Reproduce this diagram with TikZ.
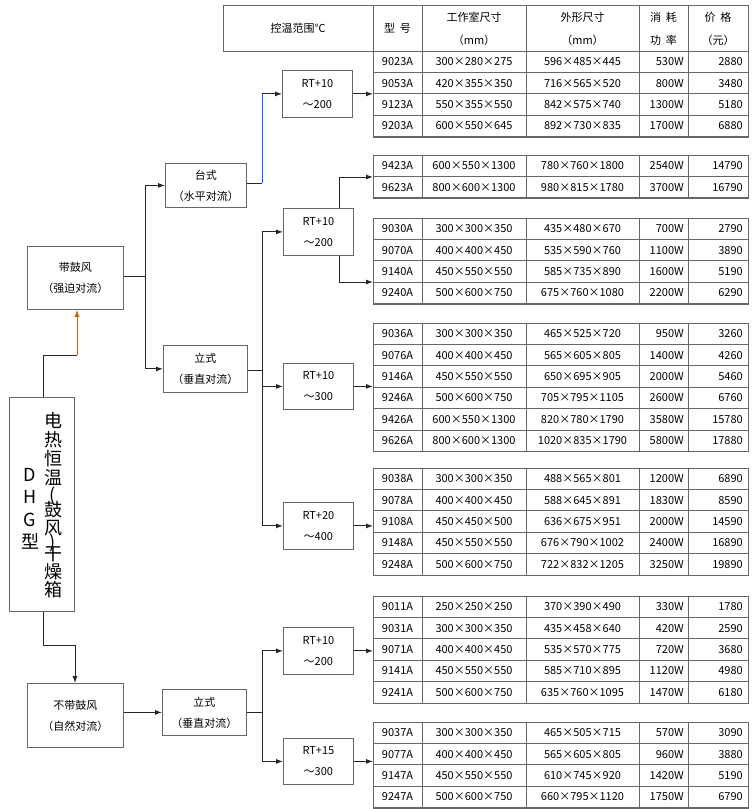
\documentclass[tikz,border=0pt]{standalone}
\usepackage{fontspec}
\setmainfont{Noto Sans CJK SC}
\usetikzlibrary{positioning,calc,arrows.meta}

\tikzset{
  box/.style={rectangle, draw=black!60, line width=0.8pt, anchor=north west, inner sep=0pt, align=center, font=\fontsize{11}{21}\selectfont},
  cell/.style={font=\fontsize{11}{13}\selectfont, inner sep=0pt},
  conn/.style={draw=black!85, line width=0.9pt},
  arr/.style={conn, -{Latex[length=7pt,width=5pt]}},
  grid/.style={draw=black!60, line width=0.7pt}
}

% #1 name, #2 top y, #3 rows, #4 row list
\newcommand\datatable[4]{
  \node[grid, rectangle, anchor=north west, inner sep=0pt, minimum width=375pt, minimum height=#3*21.4pt] (#1) at (373,#2) {};
  \foreach \m/\w/\o/\p/\c [count=\i] in {#4} {
    \pgfmathsetmacro\ya{#2+(\i-1)*21.4}
    \pgfmathsetmacro\yc{\ya+10.7}
    \draw[grid] (373,\ya) rectangle (748,\ya+21.4);
    \foreach \xl in {422,526,639,688} \draw[grid] (\xl,\ya) -- (\xl,\ya+21.4);
    \node[cell] (#1m\i) at (397.5,\yc) {\m};
    \node[cell] (#1w\i) at (474,\yc) {\w};
    \node[cell] (#1o\i) at (582.5,\yc) {\o};
    \node[cell, anchor=east] (#1p\i) at (684,\yc) {\p};
    \node[cell, anchor=east] (#1c\i) at (743,\yc) {\c};
  }
}

\begin{document}
\begin{tikzpicture}[x=1pt,y=-1pt]
  \useasboundingbox (0,0) rectangle (752,809);

  % header
  \draw[grid] (223,5) rectangle (748,51);
  \foreach \xl in {373,422,526,639,688} \draw[grid] (\xl,5) -- (\xl,51);
  \node[cell] (hrange) at (298,28) {控温范围℃};
  \node[cell] (hmodel) at (397.5,28) {型\ \ 号};
  \node[cell] (hwork) at (474,17) {工作室尺寸};
  \node[cell] (hworku) at (474,40) {（mm）};
  \node[cell] (hout) at (582.5,17) {外形尺寸};
  \node[cell] (houtu) at (582.5,40) {（mm）};
  \node[cell] (hpow) at (663.5,17) {消\ \ 耗};
  \node[cell] (hpowb) at (663.5,40) {功\ \ 率};
  \node[cell] (hprice) at (718,17) {价\ \ 格};
  \node[cell] (hpriceb) at (718,40) {（元）};

  % tables
  \datatable{ta}{51}{4}{9023A/300×280×275/596×485×445/530W/2880, 9053A/420×355×350/716×565×520/800W/3480, 9123A/550×355×550/842×575×740/1300W/5180, 9203A/600×550×645/892×730×835/1700W/6880}
  \datatable{tb}{155}{2}{9423A/600×550×1300/780×760×1800/2540W/14790, 9623A/800×600×1300/980×815×1780/3700W/16790}
  \datatable{tc}{218}{4}{9030A/300×300×350/435×480×670/700W/2790, 9070A/400×400×450/535×590×760/1100W/3890, 9140A/450×550×550/585×735×890/1600W/5190, 9240A/500×600×750/675×760×1080/2200W/6290}
  \datatable{td}{323}{6}{9036A/300×300×350/465×525×720/950W/3260, 9076A/400×400×450/565×605×805/1400W/4260, 9146A/450×550×550/650×695×905/2000W/5460, 9246A/500×600×750/705×795×1105/2600W/6760, 9426A/600×550×1300/820×780×1790/3580W/15780, 9626A/800×600×1300/1020×835×1790/5800W/17880}
  \datatable{te}{468}{5}{9038A/300×300×350/488×565×801/1200W/6890, 9078A/400×400×450/588×645×891/1830W/8590, 9108A/450×450×500/636×675×951/2000W/14590, 9148A/450×550×550/676×790×1002/2400W/16890, 9248A/500×600×750/722×832×1205/3250W/19890}
  \datatable{tf}{596}{5}{9011A/250×250×250/370×390×490/330W/1780, 9031A/300×300×350/435×458×640/420W/2590, 9071A/400×400×450/535×570×775/720W/3680, 9141A/450×550×550/585×710×895/1120W/4980, 9241A/500×600×750/635×760×1095/1470W/6180}
  \datatable{tg}{722}{4}{9037A/300×300×350/465×505×715/570W/3090, 9077A/400×400×450/565×605×805/960W/3880, 9147A/450×550×550/610×745×920/1420W/5190, 9247A/500×600×750/660×795×1120/1750W/6790}

  % tree boxes
  \node[box, minimum width=65pt, minimum height=214pt] (main) at (9,397) {};
  \foreach \ch/\yy [count=\k] in {电/421, 热/440, 恒/459, 温/478, {(}/496, 鼓/510, 风/528, {)}/543, 干/554, 燥/572, 箱/590}
    \node[inner sep=0pt, font=\fontsize{18}{18}\selectfont] (mc\k) at (53,\yy) {\ch};
  \foreach \ch/\yy [count=\k] in {D/475, H/497, G/520, 型/541}
    \node[inner sep=0pt, font=\fontsize{18}{18}\selectfont] (md\k) at (30,\yy) {\ch};

  \node[box, minimum width=96pt, minimum height=63pt] (fan) at (27,246) {带鼓风\\（强迫对流）};
  \node[box, minimum width=96pt, minimum height=64pt] (nofan) at (27,683) {不带鼓风\\（自然对流）};
  \node[box, minimum width=81pt, minimum height=44pt] (desk) at (165,163) {台式\\（水平对流）};
  \node[box, minimum width=84pt, minimum height=47pt] (vert) at (163,345) {立式\\（垂直对流）};
  \node[box, minimum width=84pt, minimum height=46pt] (vertb) at (162,689) {立式\\（垂直对流）};
  \node[box, minimum width=70pt, minimum height=47pt] (ra) at (282,70) {RT+10\\～200};
  \node[box, minimum width=70pt, minimum height=47pt] (rb) at (283,208) {RT+10\\～200};
  \node[box, minimum width=70pt, minimum height=46pt] (rc) at (283,363) {RT+10\\～300};
  \node[box, minimum width=70pt, minimum height=47pt] (rd) at (283,502) {RT+20\\～400};
  \node[box, minimum width=70pt, minimum height=47pt] (re) at (283,627) {RT+10\\～200};
  \node[box, minimum width=70pt, minimum height=46pt] (rf) at (283,738) {RT+15\\～300};

  % connectors
  \coordinate (up1) at (43,355);
  \coordinate (up2) at (77,355);
  \draw[conn] (main.north -| up1) -- (up1) -- (up2);
  \draw[arr, draw=orange!80!black] (up2) -- (up2 |- fan.south);
  \coordinate (dn1) at (43,645);
  \coordinate (dn2) at (75,645);
  \draw[conn] (main.south -| dn1) -- (dn1) -- (dn2);
  \draw[arr] (dn2) -- (dn2 |- nofan.north);

  \coordinate (bus1) at (145,276);
  \draw[conn] (fan.east |- bus1) -- (bus1);
  \draw[arr] (bus1) |- (desk.west);
  \draw[arr] (bus1) |- (vert.west);

  \coordinate (bus2) at (262,183);
  \draw[conn] (desk.east |- bus2) -- (bus2);
  \draw[conn, draw=blue!60!cyan] (bus2) -- (bus2 |- ra.west);
  \draw[arr] (bus2 |- ra.west) -- (ra.west);
  \draw[arr] (ra.east) -- (ra.east -| ta.west);

  \coordinate (bus3) at (262,370);
  \draw[conn] (vert.east |- bus3) -- (bus3);
  \draw[arr] (bus3) |- (rb.west);
  \draw[arr] (bus3) |- (rc.west);
  \draw[arr] (bus3) |- (rd.west);
  \coordinate (rbt) at (339,177);
  \coordinate (rbb) at (339,282);
  \draw[arr] (rb.north -| rbt) |- (rbt -| tb.west);
  \draw[arr] (rb.south -| rbb) |- (rbb -| tc.west);
  \draw[arr] (rc.east) -- (rc.east -| td.west);
  \draw[arr] (rd.east) -- (rd.east -| te.west);

  \coordinate (bus4) at (262,712);
  \draw[arr] (nofan.east |- vertb.west) -- (vertb.west);
  \draw[conn] (vertb.east) -- (vertb.east -| bus4);
  \draw[arr] (vertb.east -| bus4) |- (re.west);
  \draw[arr] (vertb.east -| bus4) |- (rf.west);
  \draw[arr] (re.east) -- (re.east -| tf.west);
  \draw[arr] (rf.east) -- (rf.east -| tg.west);
\end{tikzpicture}
\end{document}
